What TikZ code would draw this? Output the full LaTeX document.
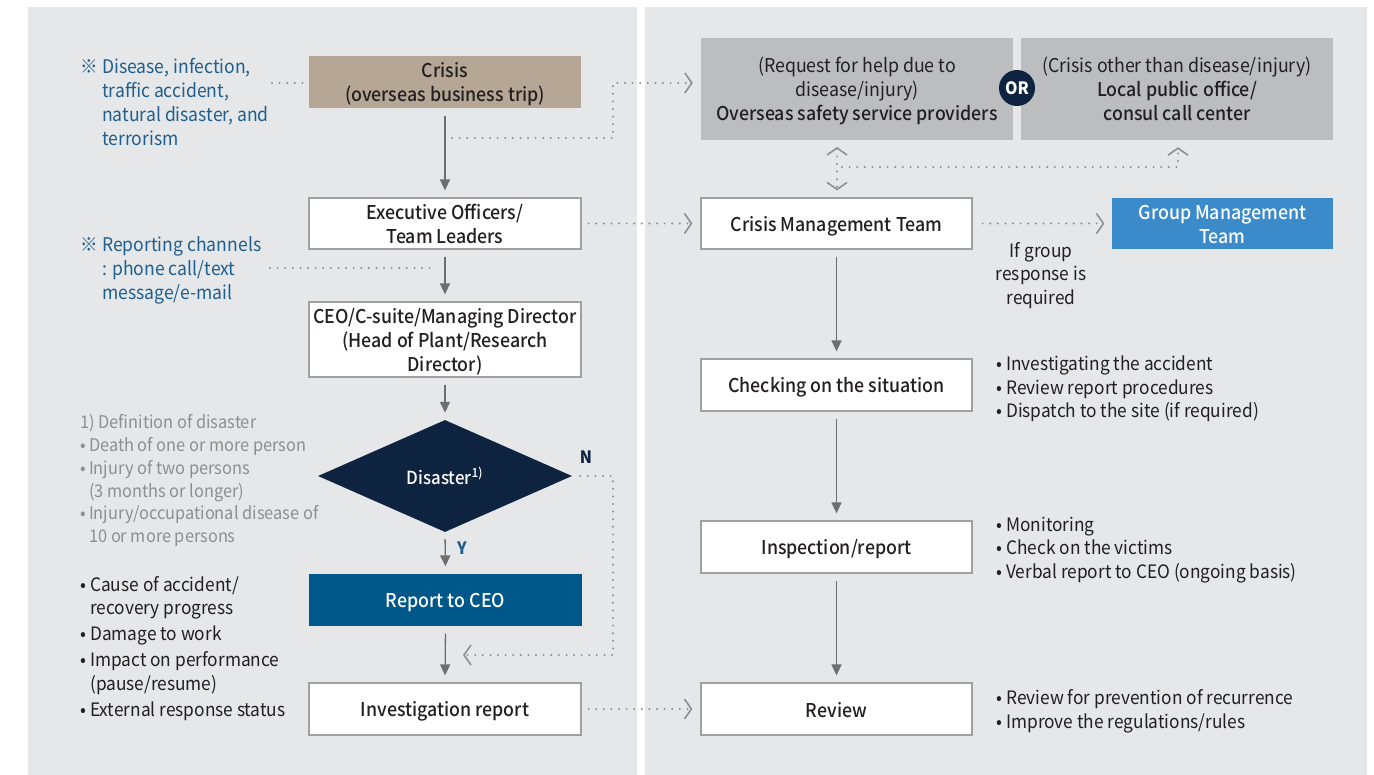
\documentclass[tikz,border=0pt]{standalone}
\usepackage{fontspec}
\setmainfont{Noto Sans CJK KR}[FakeStretch=0.935]
\newfontfamily\medf{Noto Sans CJK KR Medium}[FakeStretch=0.935]
\usetikzlibrary{arrows.meta,shapes.geometric}
\definecolor{panel}{HTML}{E6E7E8}
\definecolor{tanfill}{HTML}{B5A695}
\definecolor{topgray}{HTML}{BCBDBF}
\definecolor{navy}{HTML}{0E2340}
\definecolor{ceoblue}{HTML}{00578A}
\definecolor{grpblue}{HTML}{3B8BCB}
\definecolor{notblue}{HTML}{1F5F8F}
\definecolor{defgray}{HTML}{8C8E90}
\definecolor{arrowgray}{HTML}{6D6E70}
\definecolor{dotgray}{HTML}{8E8F91}
\definecolor{boxline}{HTML}{A0A0A0}
\definecolor{ink}{HTML}{231F20}
\newcommand\bul{\makebox[10pt][l]{•}}
\newcommand\st{\rule[-4pt]{0pt}{24pt}}
\newcommand\nolsk{\lineskiplimit-50pt\relax}
\tikzset{
  boxtext/.style={font=\medf\fontsize{19}{24}\selectfont\nolsk, text=ink, align=center, inner sep=0pt},
  wbox/.style={boxtext, draw=boxline, line width=1.2pt, fill=white, minimum width=272pt, minimum height=52pt},
  gbox/.style={boxtext, font=\fontsize{19}{24}\selectfont\nolsk, fill=topgray, minimum width=312pt, minimum height=102pt},
  sarrow/.style={draw=arrowgray, line width=1.3pt, -{Triangle[length=11pt,width=10pt]}, shorten <=7pt, shorten >=7pt},
  dots/.style={draw=dotgray, line width=2.2pt, line cap=round, dash pattern=on 0pt off 7.6pt},
  chev/.style={dots, -{Straight Barb[length=7pt,width=20pt,line width=1.6pt]}},
  chevboth/.style={dots, {Straight Barb[length=7pt,width=20pt,line width=1.6pt]}-{Straight Barb[length=7pt,width=20pt,line width=1.6pt]}},
  note/.style={anchor=base west, inner sep=0pt, text=notblue, font=\fontsize{18.8}{24}\selectfont},
  defnote/.style={anchor=base west, inner sep=0pt, text=defgray, font=\fontsize{17.5}{22.7}\selectfont},
  bnote/.style={anchor=base west, inner sep=0pt, text=ink, font=\fontsize{18.5}{23.5}\selectfont},
}
\begin{document}
\begin{tikzpicture}[x=1pt,y=-1pt]
\fill[white] (0,0) rectangle (1374,775);
\useasboundingbox (0,0) rectangle (1374,775);
\fill[panel] (28,7) rectangle (637,775);
\fill[panel] (645,7) rectangle (1367,775);

% left column
\node[wbox, fill=tanfill, draw=none] (crisis) at (445,82) {\st Crisis\\\st(overseas business trip)};
\node[wbox, minimum height=51pt] (exec) at (445,223.5) {\st Executive Officers/\\\st Team Leaders};
\node[wbox, minimum height=75pt] (ceo) at (445,339.5) {\st CEO/C-suite/Managing Director\\\st(Head of Plant/Research\\\st Director)};
\node[diamond, fill=navy, minimum width=254pt, minimum height=112pt, aspect=2.27, inner sep=0pt,
      text=white, font=\medf\fontsize{18}{22}\selectfont] (dis) at (445,476) {Disaster\textsuperscript{1)}};
\node[wbox, fill=ceoblue, draw=none, text=white, minimum width=273pt] (rep) at (445.5,600) {\st Report to CEO};
\node[wbox] (inv) at (445,709) {\st Investigation report};

% right column
\node[gbox] (over) at (857,89) {\st(Request for help due to\\\st disease/injury)\\\st{\medf Overseas safety service providers}};
\node[gbox] (local) at (1177,89) {\st(Crisis other than disease/injury)\\\st{\medf Local public office/}\\\st{\medf consul call center}};
\node[circle, fill=navy, minimum size=36pt, inner sep=0pt, text=white, font=\bfseries\fontsize{17}{20}\selectfont] (orc) at (1017,88) {OR};
\node[wbox, minimum width=271pt, minimum height=51pt] (cmt) at (836.5,223.5) {\st Crisis Management Team};
\node[wbox, fill=grpblue, draw=none, text=white, minimum width=221pt, minimum height=51pt] (grp) at (1222.5,223.5) {\st Group Management\\\st Team};
\node[wbox, minimum width=271pt] (chk) at (836.5,385) {\st Checking on the situation};
\node[wbox, minimum width=271pt] (insp) at (836.5,547) {\st Inspection/report};
\node[wbox, minimum width=271pt] (rev) at (836.5,709) {\st Review};

% solid arrows
\draw[sarrow] (crisis.south) -- (exec.north);
\draw[sarrow] (exec.south) -- (ceo.north);
\draw[sarrow] (ceo.south) -- (dis.north);
\draw[sarrow] (dis.south) -- (rep.north);
\draw[sarrow] (rep.south) -- (inv.north);
\draw[sarrow] (cmt.south) -- (chk.north);
\draw[sarrow] (chk.south) -- (insp.north);
\draw[sarrow] (insp.south) -- (rev.north);

\node[text=notblue, font=\bfseries\fontsize{17}{20}\selectfont, inner sep=0pt] (ylab) at (462,548) {Y};
\node[text=navy, font=\bfseries\fontsize{17}{20}\selectfont, inner sep=0pt] (nlab) at (586,457) {N};

% dotted connectors
\coordinate (c1) at (452,138);
\coordinate (c2) at (613,138);
\coordinate (c3) at (613,83);
\draw[chev, shorten >=8pt] (c1) -- (c2) -- (c3) -- (c3 -| over.west);

\coordinate (n1) at (613,476);
\coordinate (n2) at (613,655);
\coordinate (n3) at (463,655);
\draw[chev, shorten <=8pt] (dis.east) -- (n1) -- (n2) -- (n3);

\draw[chev, shorten <=7pt, shorten >=8pt] (exec.east) -- (cmt.west);
\draw[chev, shorten <=10pt, shorten >=7pt] (cmt.east) -- (grp.west);
\draw[chev, shorten <=7pt, shorten >=8pt] (inv.east) -- (rev.west);

\coordinate (v1) at (837,140);
\draw[chevboth, shorten <=7pt, shorten >=7pt] (v1) -- (v1 |- cmt.north);
\coordinate (h1) at (842,167);
\coordinate (h2) at (1178,167);
\draw[chev, shorten >=7pt] (h1) -- (h2) -- (h2 |- local.south);

\coordinate (a1) at (272,83);
\draw[dots, shorten >=4pt] (a1) -- (a1 -| crisis.west);
\coordinate (a2) at (270,268);
\coordinate (a3) at (437,268);
\draw[dots] (a2) -- (a3);

% notes
\node[note] (note1) at (80,74) {\begin{tabular}[t]{@{}l@{}l@{}}\makebox[22pt][l]{※}&Disease, infection,\\&traffic accident,\\&natural disaster, and\\&terrorism\end{tabular}};
\node[note] (note2) at (80,252) {\begin{tabular}[t]{@{}l@{}l@{}}\makebox[22pt][l]{※}&Reporting channels\\&: phone call/text\\&message/e-mail\end{tabular}};

\node[defnote] (defs) at (80,429) {\begin{tabular}[t]{@{}l@{}l@{}}\multicolumn{2}{@{}l@{}}{1) Definition of disaster}\\
\makebox[9pt][l]{•}&Death of one or more person\\
\makebox[9pt][l]{•}&Injury of two persons\\
&(3 months or longer)\\
\makebox[9pt][l]{•}&Injury/occupational disease of\\
&10 or more persons\end{tabular}};

\node[bnote] (items) at (80,591) {\begin{tabular}[t]{@{}l@{}l@{}}\bul&Cause of accident/\\
&recovery progress\\[2.5pt]
\bul&Damage to work\\[2.5pt]
\bul&Impact on performance\\
&(pause/resume)\\[3pt]
\bul&External response status\end{tabular}};

\node[bnote] (r1) at (996,371) {\begin{tabular}[t]{@{}l@{}l@{}}\bul&Investigating the accident\\\bul&Review report procedures\\\bul&Dispatch to the site (if required)\end{tabular}};
\node[bnote] (r2) at (996,531) {\begin{tabular}[t]{@{}l@{}l@{}}\bul&Monitoring\\\bul&Check on the victims\\\bul&Verbal report to CEO (ongoing basis)\end{tabular}};
\node[bnote] (r3) at (996,704.5) {\begin{tabular}[t]{@{}l@{}l@{}}\bul&Review for prevention of recurrence\\\bul&Improve the regulations/rules\end{tabular}};

\node[bnote, anchor=base] (ifg) at (1041,257.5) {\begin{tabular}[t]{@{}c@{}}If group\\response is\\required\end{tabular}};
\end{tikzpicture}
\end{document}
